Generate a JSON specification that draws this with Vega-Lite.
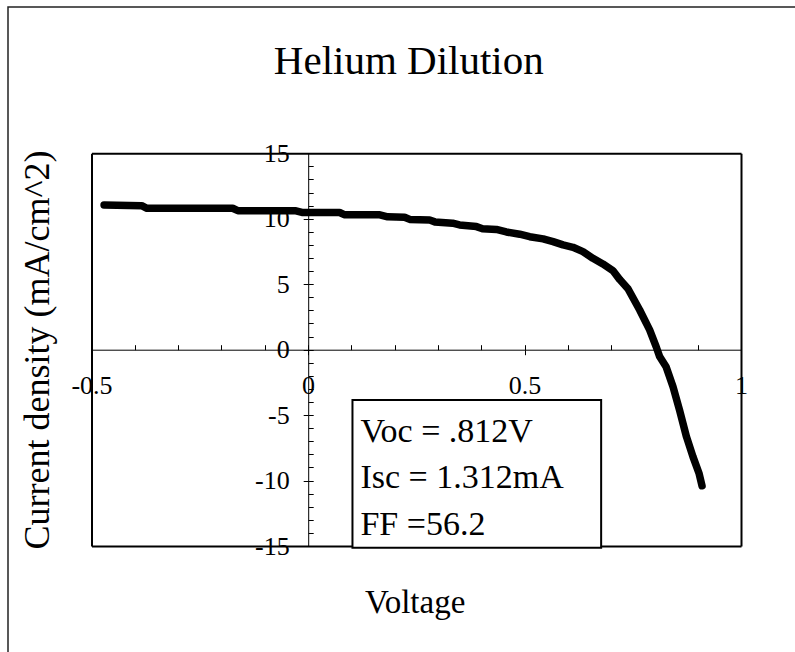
{
  "$schema": "https://vega.github.io/schema/vega-lite/v6.json",
  "width": 797,
  "height": 655,
  "autosize": {"type": "none"},
  "padding": {"left": 8, "top": 7, "right": -10, "bottom": -10},
  "background": "white",
  "datasets": {
    "iv": [
      {"V": -0.471, "J": 11.05},
      {"V": -0.384, "J": 11.0},
      {"V": -0.372, "J": 10.8},
      {"V": -0.174, "J": 10.8},
      {"V": -0.162, "J": 10.62},
      {"V": -0.03, "J": 10.62},
      {"V": -0.014, "J": 10.48},
      {"V": 0.073, "J": 10.48},
      {"V": 0.085, "J": 10.3},
      {"V": 0.166, "J": 10.3},
      {"V": 0.184, "J": 10.15},
      {"V": 0.223, "J": 10.12},
      {"V": 0.235, "J": 9.95},
      {"V": 0.281, "J": 9.9},
      {"V": 0.293, "J": 9.76},
      {"V": 0.334, "J": 9.66},
      {"V": 0.35, "J": 9.53},
      {"V": 0.389, "J": 9.4},
      {"V": 0.403, "J": 9.24},
      {"V": 0.435, "J": 9.18},
      {"V": 0.458, "J": 8.99},
      {"V": 0.489, "J": 8.82},
      {"V": 0.512, "J": 8.63},
      {"V": 0.543, "J": 8.46},
      {"V": 0.566, "J": 8.25},
      {"V": 0.589, "J": 8.0},
      {"V": 0.612, "J": 7.82},
      {"V": 0.635, "J": 7.49},
      {"V": 0.658, "J": 6.98},
      {"V": 0.681, "J": 6.55},
      {"V": 0.704, "J": 6.04},
      {"V": 0.72, "J": 5.35},
      {"V": 0.739, "J": 4.65},
      {"V": 0.766, "J": 3.03},
      {"V": 0.789, "J": 1.51},
      {"V": 0.804, "J": 0.23},
      {"V": 0.812, "J": -0.53},
      {"V": 0.827, "J": -1.3},
      {"V": 0.843, "J": -2.83},
      {"V": 0.858, "J": -4.61},
      {"V": 0.874, "J": -6.65},
      {"V": 0.889, "J": -8.17},
      {"V": 0.903, "J": -9.44},
      {"V": 0.91, "J": -10.4}
    ]
  },
  "config": {
    "font": "Liberation Serif",
    "view": {"stroke": "#222222", "strokeWidth": 1.5},
    "axis": {"grid": false}
  },
  "resolve": {
    "scale": {"x": "independent", "y": "independent"},
    "axis": {"x": "independent", "y": "independent"}
  },
  "layer": [
    {
      "data": {"name": "iv"},
      "mark": {"type": "line", "color": "black", "strokeWidth": 7.5, "strokeCap": "round", "strokeJoin": "round"},
      "encoding": {
        "x": {
          "field": "V", "type": "quantitative",
          "scale": {"domain": [-0.5, 1], "range": [83.5, 733], "nice": false, "zero": false},
          "axis": {"orient": "bottom", "offset": -312.3, "values": [-0.5, -0.4, -0.3, -0.2, -0.1, 0, 0.1, 0.2, 0.3, 0.4, 0.5, 0.6, 0.7, 0.8, 0.9, 1],
                   "tickSize": -5, "tickColor": "black", "tickWidth": 1, "labels": false, "domain": true, "domainColor": "black", "domainWidth": 1, "title": null, "grid": false}
        },
        "y": {
          "field": "J", "type": "quantitative",
          "scale": {"domain": [-15, 15], "range": [539, 146.3], "nice": false, "zero": false},
          "axis": {"orient": "left", "offset": -300.2, "values": [-15, -14, -13, -12, -11, -10, -9, -8, -7, -6, -5, -4, -3, -2, -1, 0, 1, 2, 3, 4, 5, 6, 7, 8, 9, 10, 11, 12, 13, 14, 15],
                   "tickSize": -5, "tickColor": "black", "tickWidth": 1, "labels": false, "domain": true, "domainColor": "black", "domainWidth": 1, "title": null, "grid": false}
        }
      }
    },
    {
      "data": {"values": [{}]},
      "mark": {"type": "rect", "fill": "white", "stroke": "black", "strokeWidth": 2},
      "encoding": {
        "x": {
          "datum": 0.1027, "type": "quantitative",
          "scale": {"domain": [-0.5, 1], "range": [83.5, 733], "nice": false, "zero": false},
          "axis": {"orient": "bottom", "offset": -312.3, "values": [-0.5, 0, 0.5, 1], "domain": false, "ticks": true, "tickSize": 5, "tickColor": "black",
                   "labels": true, "labelFont": "Liberation Serif", "labelFontSize": 26, "labelColor": "black", "labelPadding": 39, "labelBaseline": "alphabetic",
                   "labelAlign": "center", "labelFlush": false, "labelOverlap": false, "labelBound": false, "labelExpr": "'' + datum.value", "title": null, "grid": false}
        },
        "x2": {"datum": 0.677},
        "y": {
          "datum": -3.84, "type": "quantitative",
          "scale": {"domain": [-15, 15], "range": [539, 146.3], "nice": false, "zero": false},
          "axis": {"orient": "left", "offset": -300.2, "values": [-15, -10, -5, 0, 5, 10, 15], "domain": false, "ticks": true, "tickSize": 5, "tickColor": "black",
                   "labels": true, "labelFont": "Liberation Serif", "labelFontSize": 26, "labelColor": "black", "labelPadding": 14, "labelBaseline": "middle",
                   "labelAlign": "right", "labelFlush": false, "labelOverlap": false, "labelBound": false, "labelExpr": "'' + datum.value", "title": null, "grid": false}
        },
        "y2": {"datum": -15.13}
      }
    },
    {
      "data": {"values": [{}]},
      "mark": {"type": "text", "text": ["Voc = .812V", "Isc = 1.312mA", "FF =56.2"], "lineHeight": 46.5, "align": "left", "baseline": "alphabetic",
               "fontSize": 34, "font": "Liberation Serif", "color": "black"},
      "encoding": {
        "x": {
          "datum": 0.121, "type": "quantitative",
          "scale": {"domain": [-0.5, 1], "range": [83.5, 733], "nice": false, "zero": false},
          "axis": {"orient": "top", "offset": -146.3, "domain": true, "domainColor": "black", "domainWidth": 2, "ticks": false, "labels": false, "grid": false,
                   "title": "Helium Dilution", "titleFont": "Liberation Serif", "titleFontSize": 41, "titleFontWeight": "normal", "titleColor": "black",
                   "titleX": 400.3, "titleY": -80, "titleAlign": "center", "titleBaseline": "alphabetic", "titleAngle": 0}
        },
        "y": {
          "datum": -7.05, "type": "quantitative",
          "scale": {"domain": [-15, 15], "range": [539, 146.3], "nice": false, "zero": false},
          "axis": {"orient": "left", "offset": -83.5, "domain": true, "domainColor": "black", "domainWidth": 2, "ticks": false, "labels": false, "grid": false,
                   "title": "Current density (mA/cm^2)", "titleFont": "Liberation Serif", "titleFontSize": 36, "titleFontWeight": "normal", "titleColor": "black",
                   "titleX": -43.5, "titleY": 342.5, "titleAlign": "center", "titleBaseline": "alphabetic", "titleAngle": -90}
        }
      }
    },
    {
      "data": {"name": "iv"},
      "mark": {"type": "point", "opacity": 0},
      "encoding": {
        "x": {
          "field": "V", "type": "quantitative",
          "scale": {"domain": [-0.5, 1], "range": [83.5, 733], "nice": false, "zero": false},
          "axis": {"orient": "bottom", "offset": -116, "domain": true, "domainColor": "black", "domainWidth": 2, "ticks": false, "labels": false, "grid": false,
                   "title": "Voltage", "titleFont": "Liberation Serif", "titleFontSize": 33, "titleFontWeight": "normal", "titleColor": "black",
                   "titleX": 406.7, "titleY": 66.3, "titleAlign": "center", "titleBaseline": "alphabetic", "titleAngle": 0}
        },
        "y": {
          "field": "J", "type": "quantitative",
          "scale": {"domain": [-15, 15], "range": [539, 146.3], "nice": false, "zero": false},
          "axis": {"orient": "right", "offset": -64, "domain": true, "domainColor": "black", "domainWidth": 2, "ticks": false, "labels": false, "grid": false, "title": null}
        }
      }
    }
  ]
}
